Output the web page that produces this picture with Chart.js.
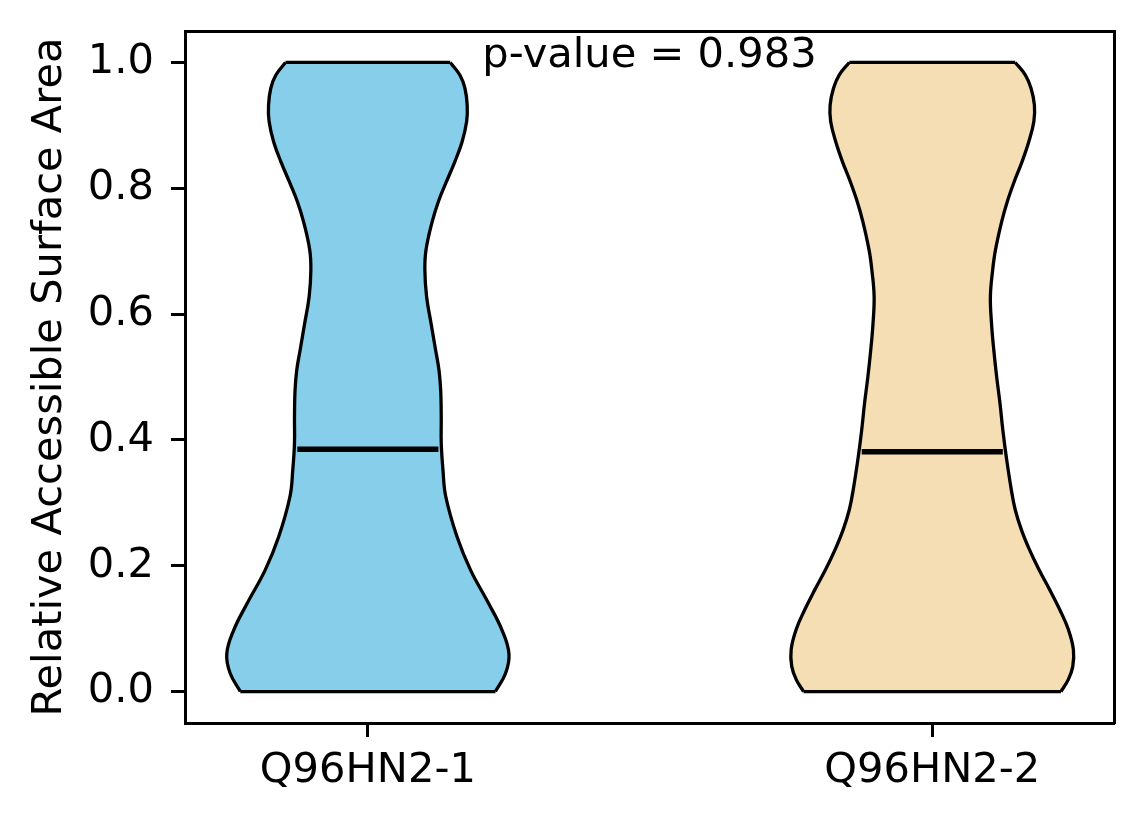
<!DOCTYPE html>
<html>
<head>
<meta charset="utf-8">
<title>Relative Accessible Surface Area</title>
<script src="https://cdn.jsdelivr.net/npm/chart.js@4.4.0/dist/chart.umd.min.js"></script>
<style>
  html, body { margin: 0; padding: 0; background: #fff; }
  canvas { display: block; }
</style>
</head>
<body>
<canvas id="chart" width="1144" height="824"></canvas>
<script>
const categories = ['Q96HN2-1', 'Q96HN2-2'];
const positions = [1, 2];
const fillColors = ['#87CEEB', '#F5DEB3'];
const medians = [0.385, 0.381];
const medianHalf = 0.125;
const pValueText = 'p-value = 0.983';
const yTicks = [0, 0.2, 0.4, 0.6, 0.8, 1.0];

// violin outlines: value levels and half widths (in x units)
const levels1 = [0.000, 0.029, 0.060, 0.097, 0.140, 0.193, 0.246, 0.310, 0.353, 0.395, 0.437, 0.479,
                 0.511, 0.543, 0.585, 0.628, 0.670, 0.702, 0.747, 0.779, 0.810, 0.842, 0.874,
                 0.906, 0.932, 0.959, 0.980, 1.000];
const halfWidths1 = [0.226, 0.244, 0.250, 0.238, 0.214, 0.182, 0.158, 0.138, 0.133, 0.130, 0.130, 0.129,
                     0.126, 0.120, 0.112, 0.104, 0.101, 0.103, 0.114, 0.125, 0.139, 0.154, 0.167,
                     0.175, 0.176, 0.172, 0.163, 0.146];
const levels2 = [0.000, 0.019, 0.040, 0.067, 0.099, 0.130, 0.162, 0.194, 0.226, 0.257, 0.289, 0.321,
                 0.374, 0.416, 0.458, 0.501, 0.543, 0.585, 0.628, 0.670, 0.702, 0.747, 0.779,
                 0.810, 0.842, 0.874, 0.906, 0.932, 0.959, 0.980, 1.000];
const halfWidths2 = [0.228, 0.241, 0.249, 0.250, 0.241, 0.226, 0.208, 0.189, 0.172, 0.158, 0.147, 0.140,
                     0.131, 0.125, 0.120, 0.114, 0.109, 0.105, 0.103, 0.107, 0.112, 0.123, 0.133,
                     0.145, 0.159, 0.171, 0.180, 0.181, 0.175, 0.165, 0.147];

const violins = [
  {levels: levels1, widths: halfWidths1},
  {levels: levels2, widths: halfWidths2}
];

Chart.defaults.font.family = 'DejaVu Sans';
Chart.defaults.font.size = 41.6;
Chart.defaults.color = '#000';

function side(v, center, sign) {
  return v.levels.map((y, i) => ({x: center + sign * v.widths[i], y}));
}

function edge(v, center, idx) {
  const y = v.levels[idx];
  const w = v.widths[idx];
  return [{x: center - w, y}, {x: center + w, y}];
}

const lineBase = {
  showLine: true,
  pointRadius: 0,
  pointHoverRadius: 0,
  borderColor: '#000',
  xAxisID: 'x',
  yAxisID: 'y'
};

const datasets = [];
// medians and flat ends first so they draw on top
positions.forEach((c, k) => {
  datasets.push({...lineBase, data: [{x: c - medianHalf, y: medians[k]}, {x: c + medianHalf, y: medians[k]}],
    borderWidth: 5.5, tension: 0, borderCapStyle: 'butt'});
});
violins.forEach((v, k) => {
  const c = positions[k];
  datasets.push({...lineBase, data: edge(v, c, 0), borderWidth: 3.3, tension: 0});
  datasets.push({...lineBase, data: edge(v, c, v.levels.length - 1), borderWidth: 3.3, tension: 0});
});
violins.forEach((v, k) => {
  const c = positions[k];
  const rightIndex = datasets.length;
  datasets.push({...lineBase, data: side(v, c, 1), borderWidth: 3.3, tension: 0.4, fill: false});
  datasets.push({...lineBase, data: side(v, c, -1), borderWidth: 3.3, tension: 0.4,
    fill: rightIndex, backgroundColor: fillColors[k]});
});

const frameAxis = {
  type: 'linear',
  display: true,
  ticks: {display: false},
  grid: {display: true, drawOnChartArea: false, drawTicks: false},
  border: {display: true, color: '#000', width: 3}
};

new Chart(document.getElementById('chart'), {
  type: 'scatter',
  data: {datasets},
  options: {
    indexAxis: 'y',
    responsive: false,
    devicePixelRatio: 1,
    animation: false,
    events: [],
    layout: {padding: {top: 31, right: 30, bottom: 0, left: 0}},
    plugins: {
      legend: {display: false},
      tooltip: {enabled: false}
    },
    scales: {
      x: {
        type: 'linear',
        position: 'bottom',
        min: 0.676,
        max: 2.322,
        afterBuildTicks: (scale) => { scale.ticks = positions.map(v => ({value: v})); },
        afterFit: (scale) => {
          scale.height = 101;
          scale.paddingLeft = 0;
          scale.paddingRight = 0;
        },
        ticks: {
          padding: 9,
          maxRotation: 0,
          autoSkip: false,
          callback: (value) => categories[positions.indexOf(value)]
        },
        grid: {display: true, drawOnChartArea: false, drawTicks: true, tickLength: 14,
               tickWidth: 3, tickColor: '#000'},
        border: {display: true, color: '#000', width: 3}
      },
      y: {
        type: 'linear',
        position: 'left',
        min: -0.05,
        max: 1.05,
        afterBuildTicks: (scale) => { scale.ticks = yTicks.map(v => ({value: v})); },
        afterFit: (scale) => {
          scale.width = 185;
          scale.paddingTop = 0;
          scale.paddingBottom = 0;
        },
        ticks: {
          padding: 17,
          callback: (value) => value.toFixed(1)
        },
        grid: {display: true, drawOnChartArea: false, drawTicks: true, tickLength: 14,
               tickWidth: 3, tickColor: '#000'},
        border: {display: true, color: '#000', width: 3},
        title: {
          display: true,
          text: 'Relative Accessible Surface Area',
          padding: {top: 25, bottom: 0}
        }
      },
      x2: {
        ...frameAxis,
        position: 'top',
        afterFit: (scale) => { scale.height = 0; },
        title: {
          display: true,
          text: pValueText,
          padding: {top: 0, bottom: 0}
        }
      },
      y2: {
        ...frameAxis,
        position: 'right',
        afterFit: (scale) => { scale.width = 0; }
      }
    }
  }
});
</script>
</body>
</html>
